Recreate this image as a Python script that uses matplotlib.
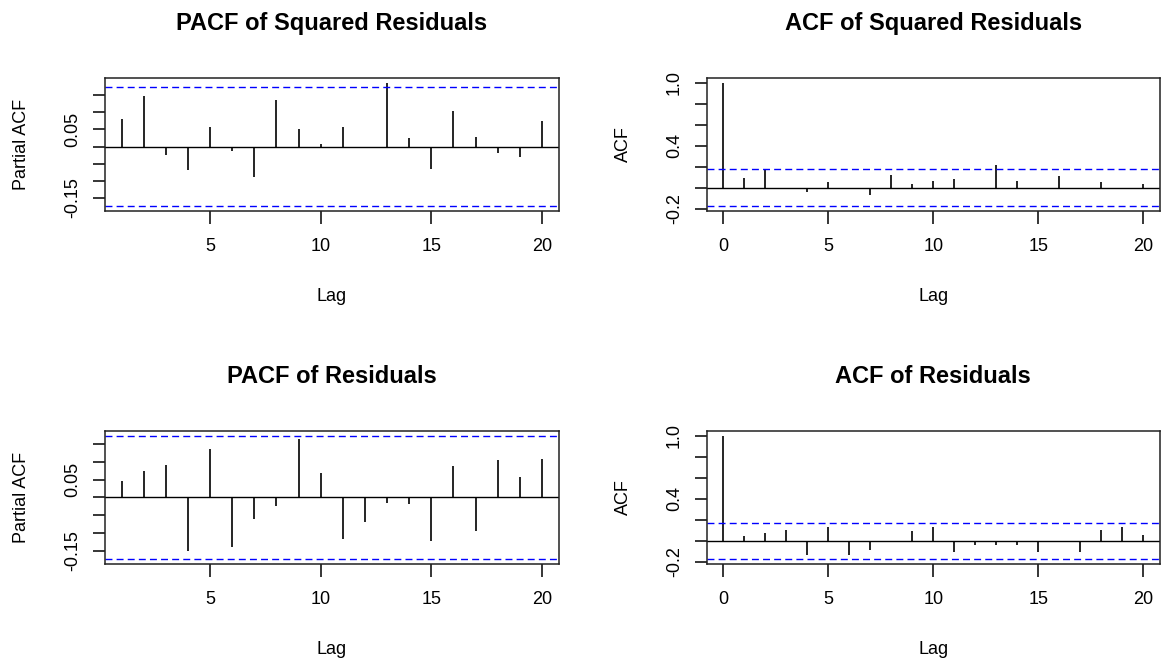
import numpy as np
import matplotlib
matplotlib.use("Agg")
import matplotlib.pyplot as plt

plt.rcParams['font.family'] = ['Liberation Sans', 'DejaVu Sans']

# values
pacf_sq_lags = list(range(1, 21))
pacf_sq = [0.080, 0.149, -0.024, -0.070, 0.058, -0.014, -0.088, 0.136, 0.050, 0.007,
           0.058, 0.0, 0.187, 0.024, -0.065, 0.105, 0.028, -0.019, -0.032, 0.076]

acf_sq_lags = list(range(0, 21))
acf_sq = [1.0, 0.091, 0.164, 0.0, -0.044, 0.050, -0.016, -0.075, 0.123, 0.035, 0.066,
          0.079, 0.0, 0.220, 0.063, -0.016, 0.107, 0.0, 0.050, 0.0, 0.035]

pacf_res_lags = list(range(1, 21))
pacf_res = [0.046, 0.075, 0.092, -0.151, 0.136, -0.139, -0.060, -0.023, 0.165, 0.067,
            -0.118, -0.069, -0.016, -0.020, -0.123, 0.087, -0.094, 0.104, 0.058, 0.108]

acf_res_lags = list(range(0, 21))
acf_res = [1.0, 0.047, 0.075, 0.107, -0.138, 0.132, -0.135, -0.091, 0.0, 0.091, 0.135,
           -0.104, -0.041, -0.038, -0.041, -0.104, 0.0, -0.104, 0.107, 0.135, 0.060]

ci = 0.1732  # 95% band, 1.96/sqrt(n)

pacf_yticks = [-0.15, -0.10, -0.05, 0.0, 0.05, 0.10, 0.15]
pacf_ylabels = ["-0.15", "", "", "", "0.05", "", ""]
acf_yticks = [-0.2, 0.0, 0.2, 0.4, 0.6, 0.8, 1.0]
acf_ylabels = ["-0.2", "", "", "0.4", "", "", "1.0"]

W, H = 1162, 664
fig = plt.figure(figsize=(W / 100, H / 100), dpi=100)
fig.patch.set_facecolor("white")

# box positions in pixels: left, top, right, bottom
boxes = [
    (104.7, 77.7, 558.7, 210.7),
    (706.7, 77.7, 1160.0, 210.7),
    (104.7, 430.7, 558.7, 564.0),
    (706.7, 430.7, 1160.0, 564.0),
]

panels = [
    ("PACF of Squared Residuals", "Partial ACF", pacf_sq_lags, pacf_sq, pacf_yticks, pacf_ylabels, [5, 10, 15, 20]),
    ("ACF of Squared Residuals", "ACF", acf_sq_lags, acf_sq, acf_yticks, acf_ylabels, [0, 5, 10, 15, 20]),
    ("PACF of Residuals", "Partial ACF", pacf_res_lags, pacf_res, pacf_yticks, pacf_ylabels, [5, 10, 15, 20]),
    ("ACF of Residuals", "ACF", acf_res_lags, acf_res, acf_yticks, acf_ylabels, [0, 5, 10, 15, 20]),
]

for (l, t, r, b), (title, ylab, lags, vals, yt, ytl, xt) in zip(boxes, panels):
    ax = fig.add_axes([l / W, 1 - b / H, (r - l) / W, (b - t) / H])
    h_px = b - t
    w_px = r - l

    ax.vlines(lags, 0, vals, color="black", lw=1.2)
    ax.axhline(0, color="black", lw=1.0)
    ax.axhline(ci, color="#0000FF", lw=1.0, linestyle=(0, (5, 3)))
    ax.axhline(-ci, color="#0000FF", lw=1.0, linestyle=(0, (5, 3)))

    # R style 4% expansion of the data range
    lo = min(min(vals), -ci)
    hi = max(max(vals), ci)
    pad = 0.04 * (hi - lo)
    ax.set_ylim(lo - pad, hi + pad)
    xpad = 0.04 * (max(lags) - min(lags))
    ax.set_xlim(min(lags) - xpad, max(lags) + xpad)

    ax.set_xticks(xt)
    ax.set_xticklabels([str(v) for v in xt])
    ax.set_yticks(yt)
    ax.set_yticklabels(ytl)
    ax.tick_params(axis="both", direction="out", length=9, width=1.1,
                   labelsize=13, color="black")
    ax.tick_params(axis="x", pad=10.5)
    ax.tick_params(axis="y", pad=8, labelrotation=90)
    for lab in ax.get_yticklabels():
        lab.set_va("center")

    for sp in ax.spines.values():
        sp.set_linewidth(1.1)
        sp.set_color("#222222")

    ax.text(0.5, 1 + 47.7 / h_px, title, transform=ax.transAxes,
            ha="center", va="baseline", fontsize=17, fontweight="bold")
    ax.text(0.5, -90 / h_px, "Lag", transform=ax.transAxes,
            ha="center", va="baseline", fontsize=13)
    ax.text(-83 / w_px, 0.5, ylab, transform=ax.transAxes, rotation=90,
            ha="center", va="center", fontsize=13)

fig.savefig("out.png", dpi=100, facecolor="white")
